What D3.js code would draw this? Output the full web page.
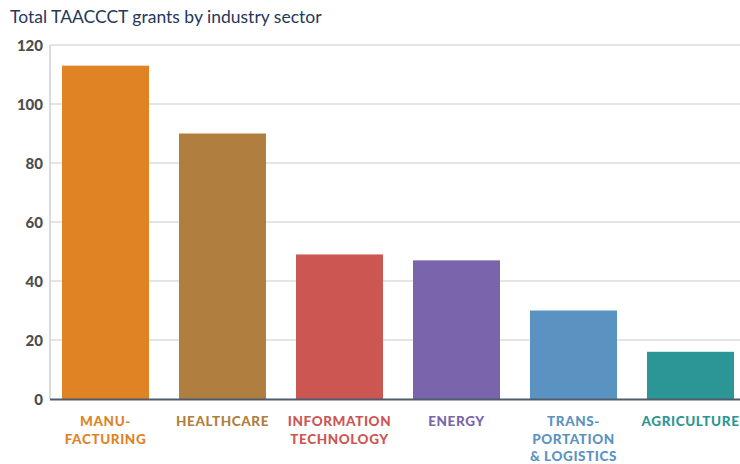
<!DOCTYPE html>
<html><head><meta charset="utf-8">
<script src="https://cdn.jsdelivr.net/npm/d3@7/dist/d3.min.js"></script>
<style>body{margin:0;background:#fff;} svg{display:block;}</style>
</head><body><svg id="c" width="740" height="464"></svg>
<script>
const categories = ["MANUFACTURING","HEALTHCARE","INFORMATION TECHNOLOGY","ENERGY","TRANSPORTATION & LOGISTICS","AGRICULTURE"];
const labelLines = [["MANU-","FACTURING"],["HEALTHCARE"],["INFORMATION","TECHNOLOGY"],["ENERGY"],["TRANS-","PORTATION","& LOGISTICS"],["AGRICULTURE"]];
const values = [113, 90, 49, 47, 30, 16];
const colors = ["#e08325","#b07f40","#cc5652","#7a65ac","#5a93c2","#2c9696"];
const yTicks = [0,20,40,60,80,100,120];
const title = "Total TAACCCT grants by industry sector";

const svg = d3.select("#c");
const x = d3.scaleBand().domain(categories).range([50, 746]).paddingInner(0.2564).paddingOuter(0.1026);
const y = d3.scaleLinear().domain([0,120]).range([399, 45]);

svg.append("text").attr("x",10).attr("y",23).text(title)
  .attr("font-family","Lato, 'Open Sans', sans-serif").attr("font-size",17.5).attr("fill","#25375a");

// gridlines
svg.append("g").selectAll("line").data(yTicks.filter(d=>d>0)).join("line")
  .attr("x1",50).attr("x2",740).attr("y1",d=>y(d)).attr("y2",d=>y(d))
  .attr("stroke","#dcdcdc").attr("stroke-width",1.6);
svg.append("line").attr("x1",50).attr("x2",50).attr("y1",y(120)).attr("y2",y(0))
  .attr("stroke","#d4d4d4").attr("stroke-width",1.6);

// y axis labels
const ya = svg.append("g").attr("transform","translate(43,0)")
  .call(d3.axisLeft(y).tickValues(yTicks).tickSize(0).tickPadding(0));
ya.select(".domain").remove();
ya.selectAll("text").attr("font-family","Lato, 'Open Sans', sans-serif").attr("font-weight","900")
  .attr("font-size",15).attr("fill","#4d4d4d").attr("dy","0.35em");

// bars
svg.append("g").selectAll("rect").data(values).join("rect")
  .attr("x",(d,i)=>x(categories[i])).attr("width",x.bandwidth())
  .attr("y",d=>y(d)).attr("height",d=>y(0)-y(d))
  .attr("fill",(d,i)=>colors[i]);

// baseline
svg.append("line").attr("x1",50).attr("x2",740).attr("y1",y(0)+0.5).attr("y2",y(0)+0.5)
  .attr("stroke","#4e5d6e").attr("stroke-width",1.8);

// category labels
const lg = svg.append("g");
categories.forEach((c,i)=>{
  const t = lg.append("text").attr("x",x(c)+x.bandwidth()/2).attr("y",426)
    .attr("text-anchor","middle").attr("font-family","Lato, 'Open Sans', sans-serif")
    .attr("font-weight","900").attr("font-size",13.5).attr("letter-spacing","0.6px").attr("fill",colors[i]);
  labelLines[i].forEach((l,j)=>t.append("tspan").attr("x",x(c)+x.bandwidth()/2).attr("dy",j?17.5:0).text(l));
});
</script></body></html>
